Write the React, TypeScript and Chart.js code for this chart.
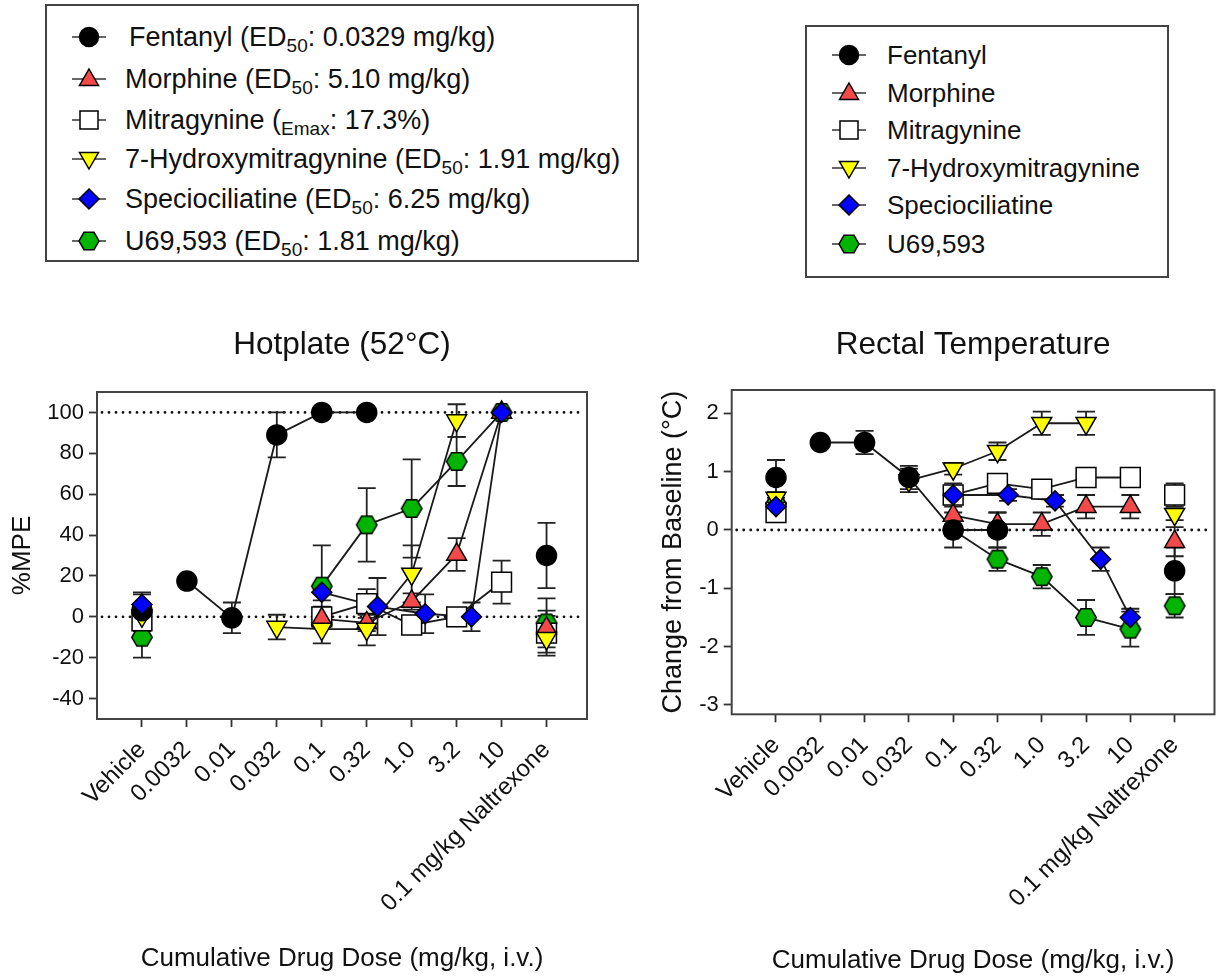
import React, { useEffect, useRef } from 'react';
import { Chart, registerables } from 'chart.js';

Chart.register(...registerables);

const FONT = "'Liberation Sans', Arial, Helvetica, sans-serif";
Chart.defaults.font.family = FONT;

// ---------- data ----------
const categories = ['Vehicle', '0.0032', '0.01', '0.032', '0.1', '0.32', '1.0', '3.2', '10', '0.1 mg/kg Naltrexone'];
const hotplateTicks = [-40, -20, 0, 20, 40, 60, 80, 100];
const temperatureTicks = [-3, -2, -1, 0, 1, 2];

// x positions = category index (speciociliatine doses sit slightly right of the ticks)
const fentanylX = [0, 1, 2, 3, 4, 5, 9];
const morphineX = [0, 4, 5, 6, 7, 8, 9];
const mitragynineX = [0, 4, 5, 6, 7, 8, 9];
const hydroxyX = [0, 3, 4, 5, 6, 7, 9];
const specioX = [0, 4, 5.24, 6.3, 7.33, 8, 9];
const u69X = [0, 4, 5, 6, 7, 8, 9];

// Hotplate (%MPE) mean and SEM (null = not shown)
const fentanylMPE = [3, 17.5, -0.5, 89, 100, 100, 30];
const fentanylMPEErr = [8, 0, 7.5, 11, 0, 0, 16];
const morphineMPE = [null, -1, -3, 7.5, 30.5, 100, -5.5];
const morphineMPEErr = [0, 4, 4, 4, 8, 0, 6];
const mitragynineMPE = [-2, 0, 6.5, -4, 0, 17, -8];
const mitragynineMPEErr = [5, 5, 7, 4, 3, 10.5, 11];
const hydroxyMPE = [0.5, -5, -6, -6, 21, 96, -10.5];
const hydroxyMPEErr = [3, 6, 7, 8, 14, 8, 7];
const specioMPE = [6, 12, 5, 1.5, 0, 100, null];
const specioMPEErr = [6, 4, 14, 9.5, 7, 0, 0];
const u69MPE = [-10, 15, 45, 53, 76, 100, -3];
const u69MPEErr = [10, 20, 18, 24, 12, 0, 12];

// Rectal temperature (change from baseline, °C) mean and SEM
const fentanylTemp = [0.9, 1.5, 1.5, 0.9, 0, 0, -0.7];
const fentanylTempErr = [0.3, 0, 0.2, 0.2, 0.3, 0.3, 0.4];
const morphineTemp = [null, 0.25, 0.1, 0.1, 0.4, 0.4, -0.2];
const morphineTempErr = [0, 0.2, 0.2, 0.2, 0.2, 0.2, 0.25];
const mitragynineTemp = [0.3, 0.6, 0.8, 0.7, 0.9, 0.9, 0.6];
const mitragynineTempErr = [0.15, 0.2, 0.1, 0.1, 0.1, 0.1, 0.2];
const hydroxyTemp = [0.55, 0.85, 1.05, 1.35, 1.83, 1.83, 0.27];
const hydroxyTempErr = [0.1, 0.2, 0.1, 0.15, 0.2, 0.2, 0.1];
const specioTemp = [0.4, 0.6, 0.6, 0.5, -0.5, -1.5, null];
const specioTempErr = [0.1, 0.1, 0.1, 0.1, 0.2, 0.15, 0];
const u69Temp = [0.45, 0, -0.5, -0.8, -1.5, -1.7, -1.3];
const u69TempErr = [0.1, 0.1, 0.2, 0.2, 0.3, 0.3, 0.2];

type Kind = 'circle' | 'triUp' | 'square' | 'triDown' | 'diamond' | 'hex';

interface Compound {
  name: string;
  kind: Kind;
  fill: string;
  order: number;
  x: number[];
}

const compounds: Compound[] = [
  { name: 'Fentanyl', kind: 'circle', fill: '#000000', order: 2, x: fentanylX },
  { name: 'Morphine', kind: 'triUp', fill: '#F24A4A', order: 4, x: morphineX },
  { name: 'Mitragynine', kind: 'square', fill: '#FFFFFF', order: 5, x: mitragynineX },
  { name: '7-Hydroxymitragynine', kind: 'triDown', fill: '#FFFF00', order: 3, x: hydroxyX },
  { name: 'Speciociliatine', kind: 'diamond', fill: '#0000FF', order: 1, x: specioX },
  { name: 'U69,593', kind: 'hex', fill: '#00B400', order: 6, x: u69X },
];

const hotplateValues = [fentanylMPE, morphineMPE, mitragynineMPE, hydroxyMPE, specioMPE, u69MPE];
const hotplateErrors = [fentanylMPEErr, morphineMPEErr, mitragynineMPEErr, hydroxyMPEErr, specioMPEErr, u69MPEErr];
const tempValues = [fentanylTemp, morphineTemp, mitragynineTemp, hydroxyTemp, specioTemp, u69Temp];
const tempErrors = [fentanylTempErr, morphineTempErr, mitragynineTempErr, hydroxyTempErr, specioTempErr, u69TempErr];

// ---------- helpers ----------
function makeHexagon(fill: string): HTMLCanvasElement {
  const c = document.createElement('canvas');
  c.width = 24;
  c.height = 21;
  const ctx = c.getContext('2d')!;
  const cx = 12, cy = 10.5, r = 10.2;
  ctx.beginPath();
  for (let i = 0; i < 6; i++) {
    const a = (Math.PI / 3) * i;
    const px = cx + r * Math.cos(a);
    const py = cy + r * Math.sin(a);
    if (i === 0) ctx.moveTo(px, py);
    else ctx.lineTo(px, py);
  }
  ctx.closePath();
  ctx.fillStyle = fill;
  ctx.fill();
  ctx.lineWidth = 1.5;
  ctx.strokeStyle = '#000';
  ctx.stroke();
  return c;
}

const framePlugin = {
  id: 'frameBox',
  beforeDatasetsDraw(chart: any, _args: any, opts: any) {
    const { ctx, chartArea: a, scales } = chart;
    ctx.save();
    ctx.strokeStyle = '#111';
    ctx.lineWidth = 2.8;
    ctx.lineCap = 'round';
    ctx.setLineDash([0, 7]);
    for (const v of opts.refLines || []) {
      const y = scales.y.getPixelForValue(v);
      ctx.beginPath();
      ctx.moveTo(a.left + 5, y);
      ctx.lineTo(a.right - 3, y);
      ctx.stroke();
    }
    ctx.restore();

    ctx.save();
    ctx.strokeStyle = '#222';
    ctx.lineWidth = 1.8;
    chart.data.datasets.forEach((ds: any) => {
      if (!ds.errors) return;
      ds.data.forEach((p: any, i: number) => {
        const e = ds.errors[i];
        if (!e) return;
        const x = scales.x.getPixelForValue(p.x);
        const y1 = scales.y.getPixelForValue(p.y + e);
        const y2 = scales.y.getPixelForValue(p.y - e);
        ctx.beginPath();
        ctx.moveTo(x, y1);
        ctx.lineTo(x, y2);
        ctx.moveTo(x - 9, y1);
        ctx.lineTo(x + 9, y1);
        ctx.moveTo(x - 9, y2);
        ctx.lineTo(x + 9, y2);
        ctx.stroke();
      });
    });
    ctx.restore();
  },
  afterDraw(chart: any) {
    const { ctx, chartArea: a } = chart;
    ctx.save();
    ctx.strokeStyle = '#444';
    ctx.lineWidth = 2;
    ctx.strokeRect(a.left, a.top, a.right - a.left, a.bottom - a.top);
    ctx.restore();
  },
};

interface PanelProps {
  left: number;
  top: number;
  width: number;
  height: number;
  title: string;
  yTitle: string;
  values: (number | null)[][];
  errors: number[][];
  yMin: number;
  yMax: number;
  yTicks: number[];
  refLines: number[];
  area: { left: number; right: number; top: number; bottom: number };
  titleCenterY: number;
  yTitleCenterX: number;
  xTitleCenterY: number;
  yTitleSize: number;
}

function pointStyleFor(kind: Kind, hex: HTMLCanvasElement): any {
  switch (kind) {
    case 'circle': return 'circle';
    case 'triUp': return 'triangle';
    case 'triDown': return 'triangle';
    case 'square': return 'rect';
    case 'diamond': return 'rectRot';
    default: return hex;
  }
}

function radiusFor(kind: Kind): number {
  switch (kind) {
    case 'circle': return 10;
    case 'triUp':
    case 'triDown': return 11.5;
    case 'square': return 14;
    case 'diamond': return 10;
    default: return 10;
  }
}

const TITLE_SIZE = 31.5;
const AXIS_TITLE_SIZE = 26;

function ChartPanel(p: PanelProps) {
  const ref = useRef<HTMLCanvasElement | null>(null);
  useEffect(() => {
    if (!ref.current) return;
    const hex = makeHexagon('#00B400');
    const datasets: any[] = [];
    compounds.forEach((c, ci) => {
      const all = c.x.map((x, i) => ({ x, y: p.values[ci][i], e: p.errors[ci][i] }));
      const shown = all.filter((pt) => pt.y !== null && pt.y !== undefined);
      const pts = shown.map((pt) => ({ x: pt.x, y: pt.y as number }));
      const errs = shown.map((pt) => pt.e);
      const linePts = pts.filter((pt) => pt.x > 0 && pt.x < 9);
      datasets.push({
        label: c.name + ' line',
        data: linePts,
        showLine: true,
        pointRadius: 0,
        borderColor: '#1a1a1a',
        borderWidth: 1.8,
        fill: false,
        order: 100 + c.order,
      });
      datasets.push({
        label: c.name,
        data: pts,
        errors: errs,
        showLine: false,
        pointStyle: pointStyleFor(c.kind, hex),
        pointRotation: c.kind === 'triDown' ? 180 : 0,
        pointRadius: radiusFor(c.kind),
        pointBackgroundColor: c.fill,
        pointBorderColor: '#000',
        pointBorderWidth: 1.5,
        order: c.order,
      });
    });

    const titleLH = TITLE_SIZE * 1.2;
    const titlePadTop = p.titleCenterY - titleLH / 2;
    const titlePadBottom = p.area.top - titleLH - titlePadTop;
    const axisLH = AXIS_TITLE_SIZE * 1.2;
    const yAxisLH = p.yTitleSize * 1.2;
    const xAxisHeight = p.height - p.area.bottom;
    const xTitlePadBottom = p.height - p.xTitleCenterY - axisLH / 2;
    const yTitlePadTop = p.yTitleCenterX - yAxisLH / 2;

    const chart = new Chart(ref.current, {
      type: 'scatter',
      data: { datasets },
      plugins: [framePlugin],
      options: {
        responsive: false,
        animation: false,
        devicePixelRatio: 1,
        events: [],
        layout: { padding: { left: 0, right: p.width - p.area.right, top: 0, bottom: 0 } },
        plugins: {
          legend: { display: false },
          tooltip: { enabled: false },
          title: {
            display: true,
            text: p.title,
            color: '#111',
            fullSize: false,
            font: { size: TITLE_SIZE, weight: 'normal', family: FONT },
            padding: { top: titlePadTop, bottom: titlePadBottom },
          },
          frameBox: { refLines: p.refLines },
        } as any,
        scales: {
          x: {
            type: 'linear',
            min: -1,
            max: 9.9,
            afterBuildTicks: (s: any) => {
              s.ticks = categories.map((_, i) => ({ value: i }));
            },
            afterFit: (s: any) => {
              s.height = xAxisHeight;
            },
            ticks: {
              autoSkip: false,
              minRotation: 45,
              maxRotation: 45,
              padding: 9,
              color: '#111',
              font: { size: 24, family: FONT },
              callback: (v: any) => categories[v as number] ?? '',
            },
            grid: {
              display: true,
              drawOnChartArea: false,
              drawTicks: true,
              tickLength: 8,
              tickWidth: 1.8,
              tickColor: '#333',
            },
            border: { display: false },
            title: {
              display: true,
              text: 'Cumulative Drug Dose (mg/kg, i.v.)',
              color: '#111',
              font: { size: AXIS_TITLE_SIZE, family: FONT },
              padding: { top: 0, bottom: xTitlePadBottom },
            },
          },
          y: {
            type: 'linear',
            min: p.yMin,
            max: p.yMax,
            afterBuildTicks: (s: any) => {
              s.ticks = p.yTicks.map((v) => ({ value: v }));
            },
            afterFit: (s: any) => {
              s.width = p.area.left;
            },
            ticks: {
              padding: 5,
              color: '#111',
              font: { size: 22, family: FONT },
              callback: (v: any) => String(v),
            },
            grid: {
              display: true,
              drawOnChartArea: false,
              drawTicks: true,
              tickLength: 8,
              tickWidth: 1.8,
              tickColor: '#333',
            },
            border: { display: false },
            title: {
              display: true,
              text: p.yTitle,
              color: '#111',
              font: { size: p.yTitleSize, family: FONT },
              padding: { top: yTitlePadTop, bottom: 0 },
            },
          },
        },
      } as any,
    });
    return () => chart.destroy();
  }, []);
  return (
    <canvas
      ref={ref}
      width={p.width}
      height={p.height}
      style={{ position: 'absolute', left: p.left, top: p.top, width: p.width, height: p.height }}
    />
  );
}

function MarkerSvg({ kind, fill }: { kind: Kind; fill: string }) {
  const cx = 20, cy = 13;
  const poly = (pts: number[][]) => pts.map(([x, y]) => `${cx + x},${cy + y}`).join(' ');
  let shape: any = null;
  const common = { fill, stroke: '#000', strokeWidth: 1.5 };
  switch (kind) {
    case 'circle':
      shape = <circle cx={cx} cy={cy} r={9.5} {...common} />;
      break;
    case 'triUp':
      shape = <polygon points={poly([[0, -10], [9.5, 6.5], [-9.5, 6.5]])} {...common} />;
      break;
    case 'triDown':
      shape = <polygon points={poly([[0, 10], [9.5, -6.5], [-9.5, -6.5]])} {...common} />;
      break;
    case 'square':
      shape = <rect x={cx - 9} y={cy - 9} width={18} height={18} {...common} />;
      break;
    case 'diamond':
      shape = <polygon points={poly([[0, -10], [10, 0], [0, 10], [-10, 0]])} {...common} />;
      break;
    default:
      shape = <polygon points={poly([[10, 0], [5, 8.7], [-5, 8.7], [-10, 0], [-5, -8.7], [5, -8.7]])} {...common} />;
  }
  return (
    <svg width={40} height={26} style={{ position: 'absolute', left: 0, top: 0 }}>
      <line x1={3} y1={cy} x2={37} y2={cy} stroke="#333" strokeWidth={1.5} />
      {shape}
    </svg>
  );
}

const subStyle: React.CSSProperties = { fontSize: '19px', verticalAlign: 'baseline', position: 'relative', top: '6px' };

const leftLegendLabels: React.ReactNode[] = [
  <>Fentanyl (ED<sub style={subStyle}>50</sub>: 0.0329 mg/kg)</>,
  <>Morphine (ED<sub style={subStyle}>50</sub>: 5.10 mg/kg)</>,
  <>Mitragynine (<sub style={subStyle}>Emax</sub>: 17.3%)</>,
  <>7-Hydroxymitragynine (ED<sub style={subStyle}>50</sub>: 1.91 mg/kg)</>,
  <>Speciociliatine (ED<sub style={subStyle}>50</sub>: 6.25 mg/kg)</>,
  <>U69,593 (ED<sub style={subStyle}>50</sub>: 1.81 mg/kg)</>,
];

function LegendBox(props: {
  left: number; top: number; width: number; height: number; fontSize: number;
  rows: number[]; markerX: number; textX: number[]; labels: React.ReactNode[];
}) {
  return (
    <div
      style={{
        position: 'absolute',
        left: props.left,
        top: props.top,
        width: props.width,
        height: props.height,
        border: '2px solid #444',
        boxSizing: 'border-box',
      }}
    >
      {compounds.map((c, i) => (
        <React.Fragment key={c.name}>
          <div style={{ position: 'absolute', left: props.markerX - 20 - props.left, top: props.rows[i] - 13 - props.top, width: 40, height: 26 }}>
            <MarkerSvg kind={c.kind} fill={c.fill} />
          </div>
          <div
            style={{
              position: 'absolute',
              left: props.textX[i] - props.left,
              top: props.rows[i] - 15 - props.top,
              height: 30,
              lineHeight: '30px',
              fontSize: props.fontSize,
              fontFamily: FONT,
              color: '#111',
              whiteSpace: 'nowrap',
            }}
          >
            {props.labels[i]}
          </div>
        </React.Fragment>
      ))}
    </div>
  );
}

export default function App() {
  return (
    <div style={{ position: 'absolute', left: 0, top: 0, width: 1230, height: 978, background: '#fff', overflow: 'hidden', fontFamily: FONT }}>
      <LegendBox
        left={45}
        top={4}
        width={594}
        height={258}
        fontSize={27}
        rows={[35, 77, 118, 157, 197, 239]}
        markerX={87}
        textX={[127, 123, 123, 123, 123, 123]}
        labels={leftLegendLabels}
      />
      <LegendBox
        left={805}
        top={25}
        width={364}
        height={253}
        fontSize={26}
        rows={[53, 91, 128, 166, 203, 242]}
        markerX={847}
        textX={[885, 885, 885, 885, 885, 885]}
        labels={compounds.map((c) => c.name)}
      />
      <ChartPanel
        left={0}
        top={300}
        width={615}
        height={678}
        title="Hotplate (52°C)"
        yTitle="%MPE"
        values={hotplateValues}
        errors={hotplateErrors}
        yMin={-50}
        yMax={110}
        yTicks={hotplateTicks}
        refLines={[0, 100]}
        area={{ left: 97, right: 587, top: 92, bottom: 419 }}
        titleCenterY={45}
        yTitleCenterX={23}
        xTitleCenterY={659}
        yTitleSize={26}
      />
      <ChartPanel
        left={615}
        top={300}
        width={615}
        height={678}
        title="Rectal Temperature"
        yTitle="Change from Baseline (°C)"
        values={tempValues}
        errors={tempErrors}
        yMin={-3.16}
        yMax={2.4}
        yTicks={temperatureTicks}
        refLines={[0]}
        area={{ left: 116.7, right: 605.7, top: 90, bottom: 414.3 }}
        titleCenterY={45}
        yTitleCenterX={59}
        xTitleCenterY={661}
        yTitleSize={27}
      />
    </div>
  );
}
